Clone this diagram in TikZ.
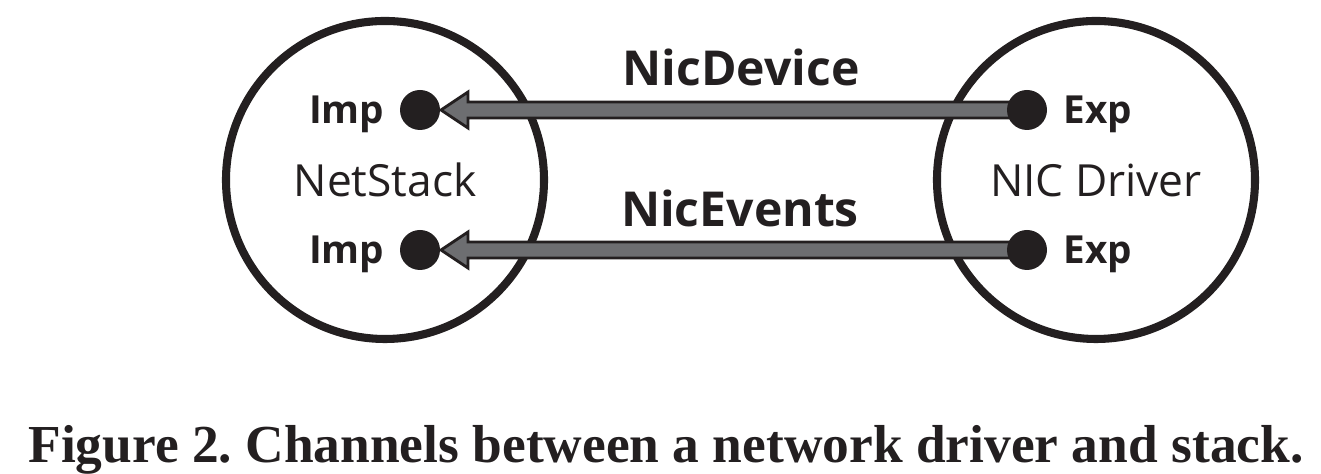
\documentclass[tikz,border=0pt]{standalone}
\usepackage{fontspec}
\setmainfont{Open Sans}
\newfontfamily\capfont{Liberation Serif}
\usetikzlibrary{positioning,calc}
\definecolor{ink}{HTML}{231F20}
\definecolor{chgray}{HTML}{6D6E71}
\frenchspacing
\begin{document}
\begin{tikzpicture}[
	comp/.style={circle,draw=ink,line width=2.3pt,minimum size=3.18cm,inner sep=0pt,text=ink,font=\fontsize{12.6}{15}\selectfont},
	port/.style={circle,fill=ink,minimum size=0.4cm,inner sep=0pt},
	portlabel/.style={inner sep=0pt,text=ink,text depth=0pt,font=\bfseries\fontsize{11}{13}\selectfont},
	chan/.style={draw=ink,line width=0.8pt,fill=chgray,line join=miter},
	chanlabel/.style={anchor=base,inner sep=0pt,text=ink,font=\bfseries\fontsize{13.7}{16}\selectfont}
	]

		\useasboundingbox (0,0) rectangle (13.21,4.74);

		\node[comp] (stack) at (3.85,2.94) {NetStack};
		\node[comp] (driver) at (10.96,2.94) {NIC Driver};

		\coordinate (imp1) at (4.20,3.64);
		\coordinate (imp2) at (4.20,2.24);
		\coordinate (exp1) at (10.27,3.64);
		\coordinate (exp2) at (10.27,2.24);

		% channels, drawn from the exporting side to the importing side
		\draw[chan] ($(exp1)+(0,0.08)$) -- ($(imp1)+(0.48,0.08)$) -- ($(imp1)+(0.48,0.18)$) -- ($(imp1)+(0.21,0)$)
			-- ($(imp1)+(0.48,-0.18)$) -- ($(imp1)+(0.48,-0.08)$) -- ($(exp1)+(0,-0.08)$) -- cycle;
		\draw[chan] ($(exp2)+(0,0.08)$) -- ($(imp2)+(0.48,0.08)$) -- ($(imp2)+(0.48,0.18)$) -- ($(imp2)+(0.21,0)$)
			-- ($(imp2)+(0.48,-0.18)$) -- ($(imp2)+(0.48,-0.08)$) -- ($(exp2)+(0,-0.08)$) -- cycle;

		\node[port] at (imp1) {};
		\node[port] at (imp2) {};
		\node[port] at (exp1) {};
		\node[port] at (exp2) {};

		\node[portlabel,left=0.35cm of imp1] (implab1) {Imp};
		\node[portlabel,left=0.35cm of imp2] (implab2) {Imp};
		\node[portlabel,right=0.36cm of exp1] (explab1) {Exp};
		\node[portlabel,right=0.36cm of exp2] (explab2) {Exp};

		\node[chanlabel] (devlab) at (7.41,3.88) {NicDevice};
		\node[chanlabel] (evlab) at (7.40,2.47) {NicEvents};

		\node[anchor=base,inner sep=0pt,text=ink,font=\capfont\bfseries\fontsize{15.2}{18}\selectfont] (caption) at (6.66,0.11)
			{Figure 2. Channels between a network driver and stack.};
	\end{tikzpicture}
\end{document}
